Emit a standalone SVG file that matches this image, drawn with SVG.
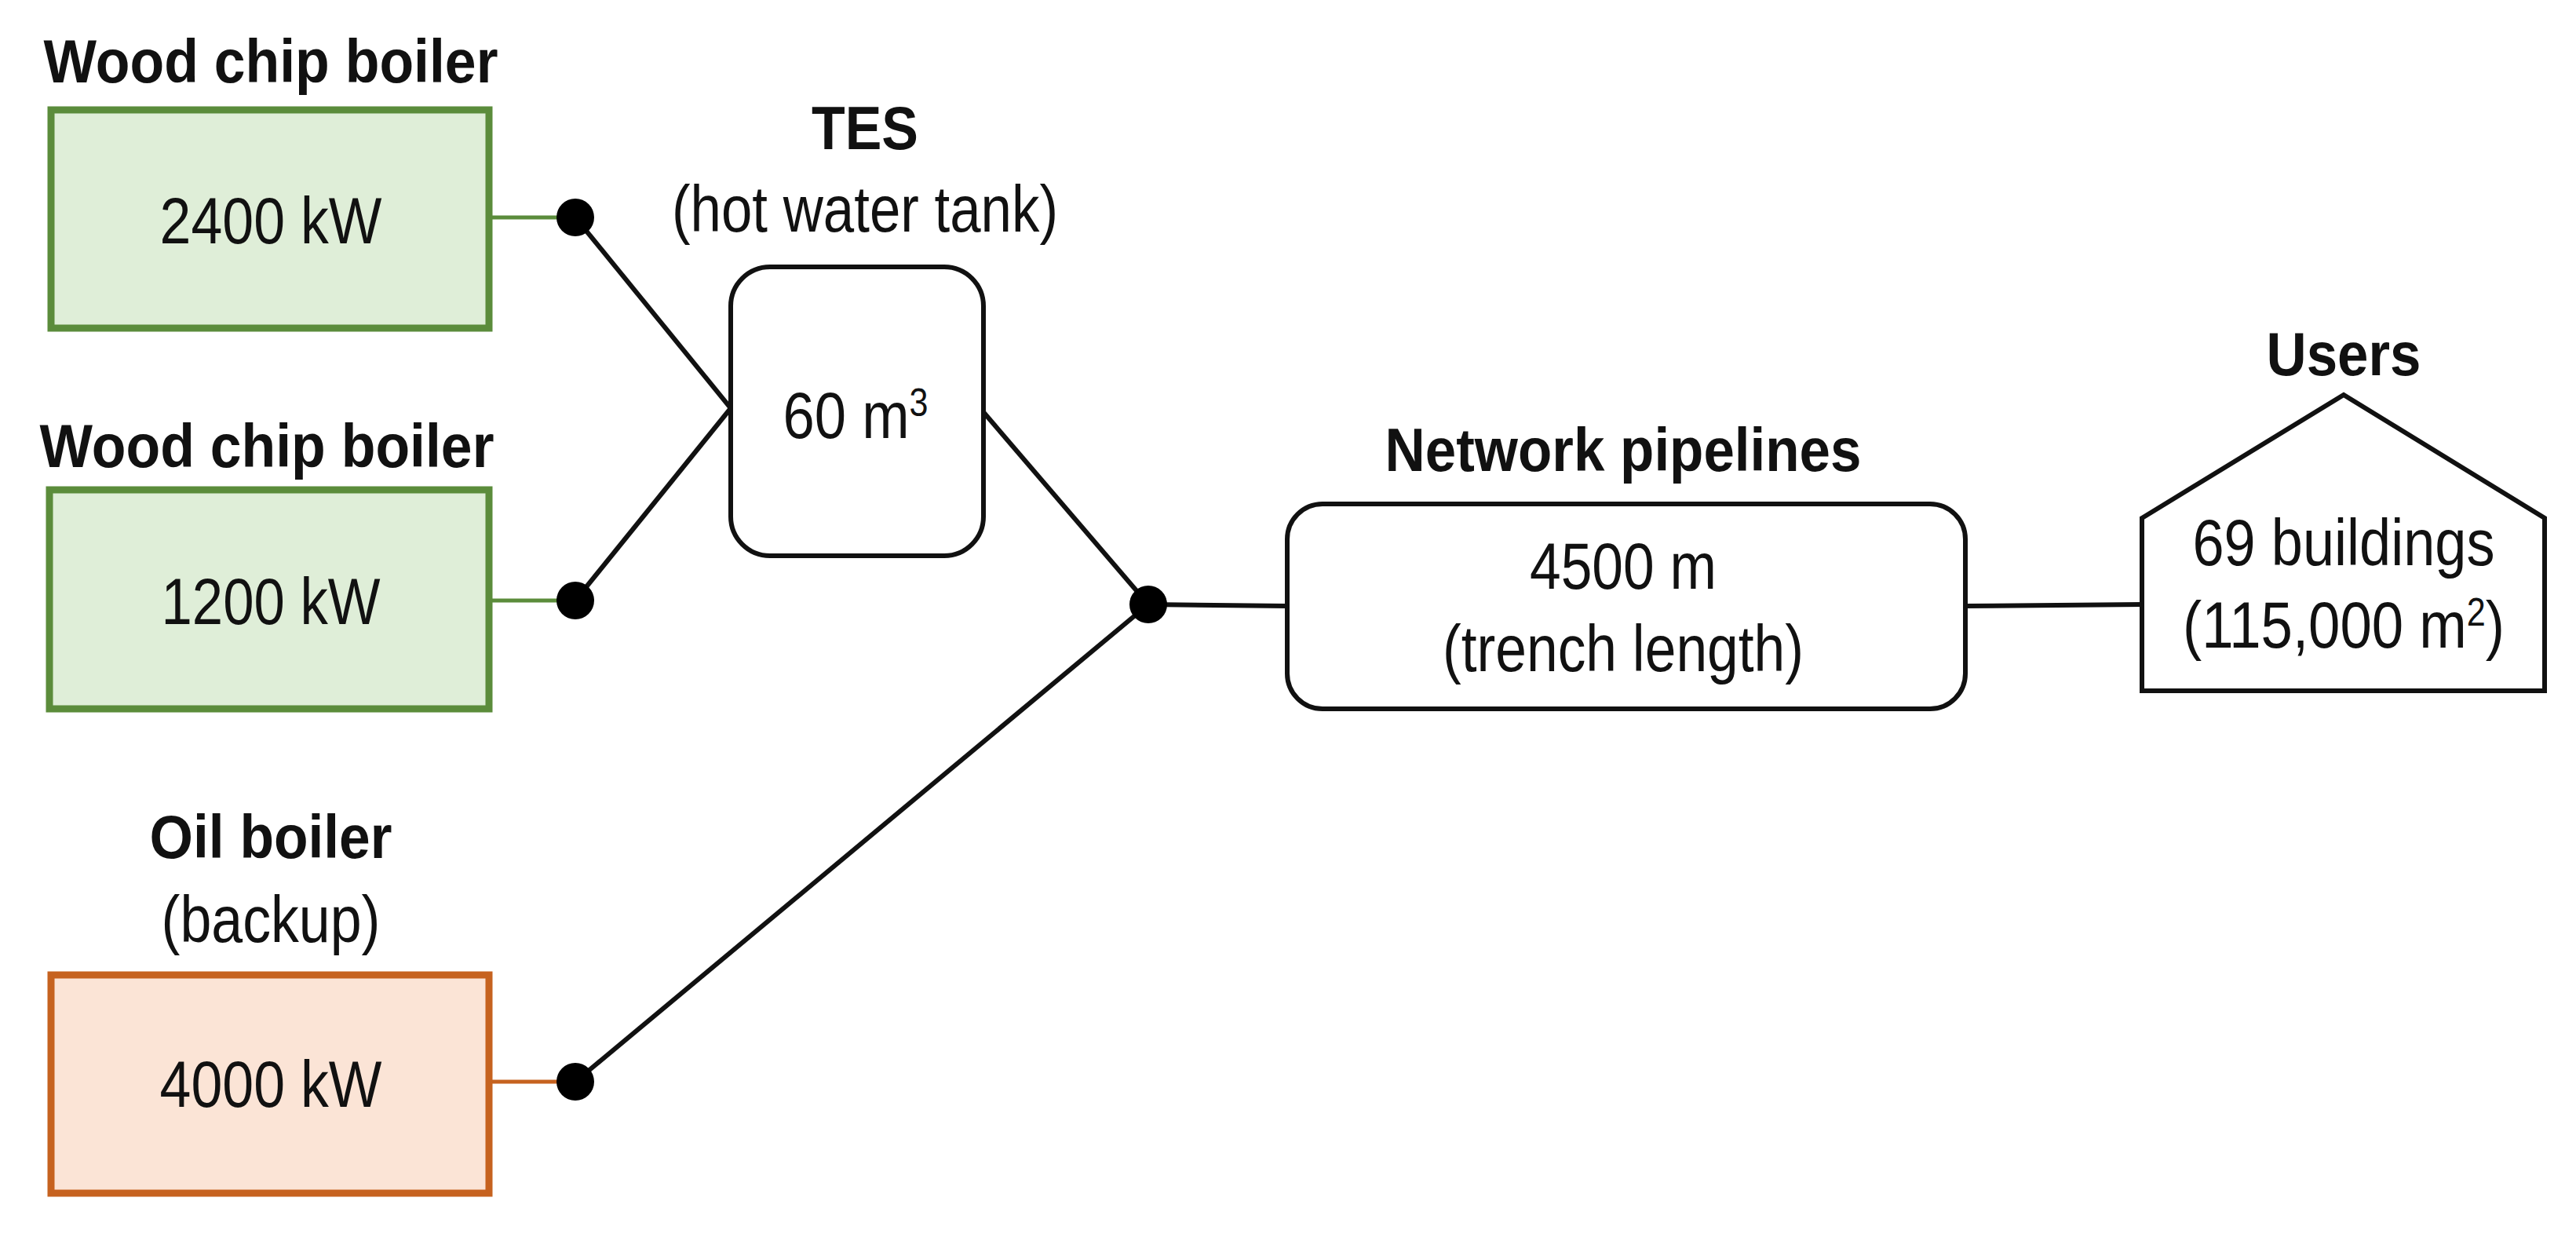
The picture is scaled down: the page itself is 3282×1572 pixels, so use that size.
<svg xmlns="http://www.w3.org/2000/svg" width="3282" height="1572" viewBox="0 0 3282 1572">
<style>
text{font-family:"Liberation Sans",Arial,sans-serif;fill:#111;text-anchor:middle}
.t{font-weight:bold;font-size:78px}
.n{font-size:84px}
.g{fill:#dfeed8;stroke:#5b8c3b;stroke-width:9}
.o{fill:#fbe4d6;stroke:#c6621f;stroke-width:9}
.w{fill:#fff;stroke:#111;stroke-width:6}
.l{stroke:#111;stroke-width:6;fill:none}
.dot{fill:#000}
</style>
<g id="connectors">
<line x1="623" y1="277" x2="733" y2="277" stroke="#5b8c3b" stroke-width="5"/>
<line x1="623" y1="765" x2="733" y2="765" stroke="#5b8c3b" stroke-width="5"/>
<line x1="623" y1="1378" x2="733" y2="1378" stroke="#c6621f" stroke-width="5"/>
<line class="l" x1="733" y1="277" x2="931" y2="520"/>
<line class="l" x1="733" y1="765" x2="931" y2="520"/>
<line class="l" x1="1253" y1="525" x2="1463" y2="770"/>
<line class="l" x1="733" y1="1378" x2="1463" y2="770"/>
<line class="l" x1="1463" y1="770" x2="1640" y2="772"/>
<line class="l" x1="2504" y1="772" x2="2729" y2="770"/>
<circle class="dot" cx="733" cy="277" r="24"/>
<circle class="dot" cx="733" cy="765" r="24"/>
<circle class="dot" cx="733" cy="1378" r="24"/>
<circle class="dot" cx="1463" cy="770" r="24"/>
</g>
<g id="boiler1">
<text class="t" x="345" y="105" textLength="579" lengthAdjust="spacingAndGlyphs">Wood chip boiler</text>
<rect class="g" x="65" y="140" width="558" height="278"/>
<text class="n" x="345" y="310" textLength="283" lengthAdjust="spacingAndGlyphs">2400 kW</text>
</g>
<g id="boiler2">
<text class="t" x="340" y="595" textLength="579" lengthAdjust="spacingAndGlyphs">Wood chip boiler</text>
<rect class="g" x="63" y="624" width="560" height="279"/>
<text class="n" x="345" y="795" textLength="279" lengthAdjust="spacingAndGlyphs">1200 kW</text>
</g>
<g id="oil">
<text class="t" x="345" y="1093" textLength="309" lengthAdjust="spacingAndGlyphs">Oil boiler</text>
<text class="n" x="345" y="1200" textLength="279" lengthAdjust="spacingAndGlyphs">(backup)</text>
<rect class="o" x="65" y="1242" width="558" height="278"/>
<text class="n" x="345" y="1410" textLength="283" lengthAdjust="spacingAndGlyphs">4000 kW</text>
</g>
<g id="tes">
<text class="t" x="1102" y="190" textLength="136" lengthAdjust="spacingAndGlyphs">TES</text>
<text class="n" x="1102" y="295" textLength="492" lengthAdjust="spacingAndGlyphs">(hot water tank)</text>
<rect class="w" x="931" y="340" width="322" height="368" rx="50"/>
<text class="n" x="1090" y="558" textLength="185" lengthAdjust="spacingAndGlyphs">60 m<tspan font-size="50" dy="-28">3</tspan></text>
</g>
<g id="network">
<text class="t" x="2068" y="600" textLength="607" lengthAdjust="spacingAndGlyphs">Network pipelines</text>
<rect class="w" x="1640" y="642" width="864" height="261" rx="45"/>
<text class="n" x="2068" y="750" textLength="238" lengthAdjust="spacingAndGlyphs">4500 m</text>
<text class="n" x="2068" y="855" textLength="460" lengthAdjust="spacingAndGlyphs">(trench length)</text>
</g>
<g id="users">
<text class="t" x="2986" y="478" textLength="197" lengthAdjust="spacingAndGlyphs">Users</text>
<polygon class="w" points="2729,660 2986,503 3242,660 3242,880 2729,880"/>
<text class="n" x="2986" y="720" textLength="385" lengthAdjust="spacingAndGlyphs">69 buildings</text>
<text class="n" x="2986" y="825" textLength="410" lengthAdjust="spacingAndGlyphs">(115,000 m<tspan font-size="50" dy="-28">2</tspan><tspan dy="28">)</tspan></text>
</g>
</svg>
